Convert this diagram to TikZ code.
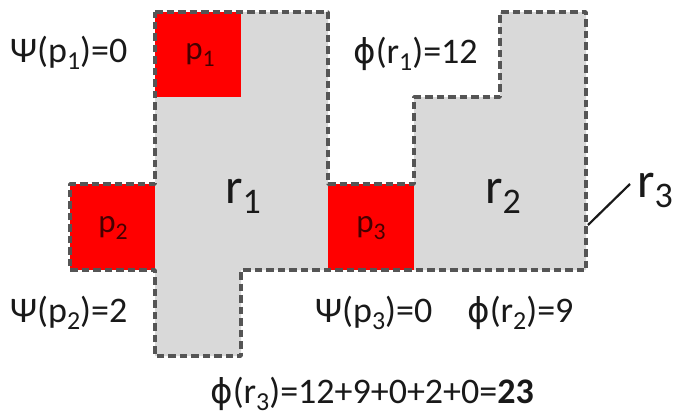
\documentclass[tikz,border=0pt]{standalone}
\usepackage{fontspec}
\setmainfont{Carlito}
\newfontfamily\dvs{DejaVu Sans}
\definecolor{cellgray}{RGB}{217,217,217}
\definecolor{pred}{RGB}{255,0,0}
\definecolor{edge}{RGB}{85,85,85}
\definecolor{txt}{RGB}{25,25,25}
\definecolor{ptxt}{RGB}{70,0,0}
\tikzset{
  region/.style={fill=cellgray, draw=none},
  pcell/.style={fill=pred, draw=none},
  outline/.style={draw=edge, line width=3.4pt, dash pattern=on 7.5pt off 4pt, line join=round},
  lbl/.style={anchor=base west, inner sep=0pt, text=txt, font=\fontsize{36}{40}\selectfont},
  big/.style={anchor=base west, inner sep=0pt, text=txt, font=\fontsize{50}{56}\selectfont},
  plbl/.style={inner sep=0pt, text=ptxt, font=\fontsize{33}{38}\selectfont},
  leader/.style={draw=txt, line width=2.2pt}
}
\newcommand{\sbs}[1]{\raisebox{-0.2em}{\scalebox{0.72}{#1}}}
\newcommand{\phisym}{{\dvs\scalebox{0.95}{ϕ}}}
\begin{document}
\begin{tikzpicture}[x=1pt,y=-1pt]
\useasboundingbox (0,0) rectangle (675,418);
% gray regions
\fill[region] (155,12) -- (328,12) -- (328,270) -- (241,270) -- (241,356) -- (155,356) -- cycle;
\fill[region] (500,12) -- (586,12) -- (586,270) -- (414,270) -- (414,97) -- (500,97) -- cycle;
% red cells
\fill[pcell] (155,12) rectangle (241,97);
\fill[pcell] (70,184) rectangle (155,270);
\fill[pcell] (328,184) rectangle (414,270);
% outline of r3
\draw[outline] (155,12) -- (328,12) -- (328,184) -- (414,184) -- (414,97) -- (500,97) -- (500,12) -- (586,12) -- (586,270) -- (241,270) -- (241,356) -- (155,356) -- (155,270) -- (70,270) -- (70,184) -- (155,184) -- cycle;
% cell labels
\node[plbl] (p1) at (200,55) {p\sbs{1}};
\node[plbl] (p2) at (113,228) {p\sbs{2}};
\node[plbl] (p3) at (371,228) {p\sbs{3}};
% region labels
\node[big] (r1) at (225,203) {r\sbs{1}};
\node[big] (r2) at (485,203) {r\sbs{2}};
\node[big] (r3) at (637,197) {r\sbs{3}};
\coordinate (r3tip) at (588,225);
\coordinate (r3end) at (630,184);
\draw[leader] (r3tip) -- (r3end);
% value labels
\node[lbl] (psi1) at (10,62) {Ψ(p\sbs{1})=0};
\node[lbl] (phi1) at (353,63) {\phisym(r\sbs{1})=12};
\node[lbl] (psi2) at (10,322) {Ψ(p\sbs{2})=2};
\node[lbl] (psi3) at (315,322) {Ψ(p\sbs{3})=0};
\node[lbl] (phi2) at (467,322) {\phisym(r\sbs{2})=9};
\node[lbl] (phi3) at (210,403) {\phisym(r\sbs{3})=12+9+0+2+0=\textbf{23}};
\end{tikzpicture}
\end{document}
